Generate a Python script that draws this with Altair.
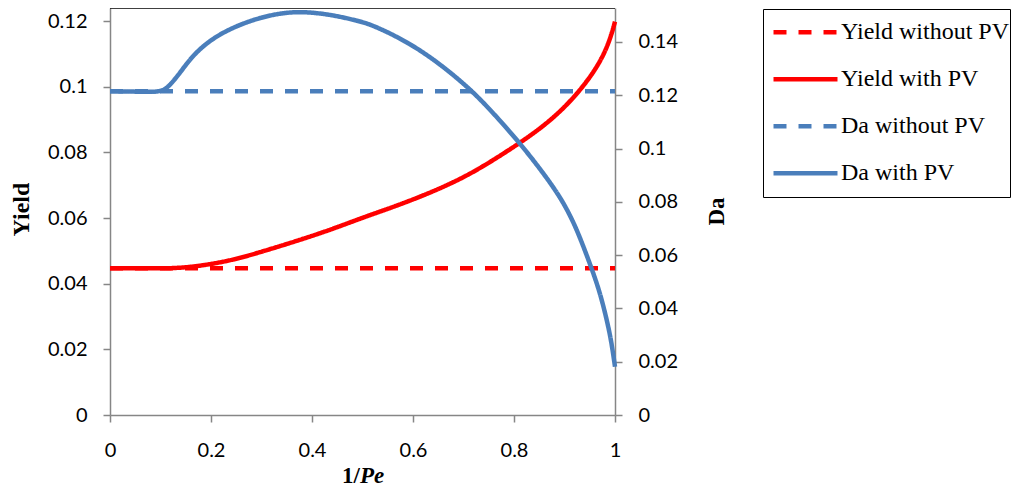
import altair as alt
import pandas as pd

# ---- data ----
series_names = ["Yield without PV", "Yield with PV", "Da without PV", "Da with PV"]
series_colors = ["#FF0000", "#FF0000", "#4A7EBB", "#4A7EBB"]
series_dashes = [[13, 12], [1, 0], [13, 12], [1, 0]]

x_flat = [0.0, 1.0]
yield_without_pv = [0.0447, 0.0447]
da_without_pv = [0.1215, 0.1215]

x_yield_pv = [0.0, 0.05, 0.1, 0.13, 0.18, 0.244, 0.3, 0.376, 0.44, 0.5, 0.56, 0.62,
              0.68, 0.733, 0.812, 0.878, 0.931, 0.97, 0.99, 1.0]
yield_with_pv = [0.0447, 0.0447, 0.0447, 0.0447, 0.0454, 0.0472, 0.0497, 0.0533,
                 0.0566, 0.0601, 0.0633, 0.0668, 0.0708, 0.0751, 0.0828, 0.0902,
                 0.0987, 0.1071, 0.1142, 0.1198]

x_da_pv = [0.0, 0.05, 0.08, 0.105, 0.12, 0.14, 0.165, 0.2, 0.245, 0.3, 0.35, 0.39,
           0.44, 0.49, 0.52, 0.59, 0.653, 0.72, 0.772, 0.812, 0.851, 0.891, 0.917,
           0.935, 0.954, 0.97, 0.984, 0.993, 1.0]
da_with_pv = [0.1215, 0.1214, 0.1212, 0.1215, 0.1240, 0.1288, 0.1352, 0.1410, 0.1457,
              0.1494, 0.1512, 0.1513, 0.1502, 0.1480, 0.1464, 0.1400, 0.1319, 0.1213,
              0.1106, 0.1019, 0.0926, 0.0821, 0.0728, 0.0645, 0.0549, 0.0461, 0.0356,
              0.0274, 0.0181]

x_ticks = [0, 0.2, 0.4, 0.6, 0.8, 1.0]
yield_ticks = [0, 0.02, 0.04, 0.06, 0.08, 0.1, 0.12]
da_ticks = [0, 0.02, 0.04, 0.06, 0.08, 0.1, 0.12, 0.14]

# ---- tables ----
df_yield = pd.concat([
    pd.DataFrame({"x": x_flat, "value": yield_without_pv, "series": series_names[0]}),
    pd.DataFrame({"x": x_yield_pv, "value": yield_with_pv, "series": series_names[1]}),
])
df_da = pd.concat([
    pd.DataFrame({"x": x_flat, "value": da_without_pv, "series": series_names[2]}),
    pd.DataFrame({"x": x_da_pv, "value": da_with_pv, "series": series_names[3]}),
])

W, H = 505, 407
GRAY = "#868686"

leg = alt.Legend(
    title=None, orient="none", legendX=653, legendY=1,
    symbolType="stroke", symbolSize=4096, symbolStrokeWidth=4.5,
    labelFont="Liberation Serif", labelFontSize=24, labelColor="black",
    labelOffset=1, symbolOffset=8, padding=0, clipHeight=46.5, rowPadding=0,
    strokeColor="black", labelLimit=400,
)

color = alt.Color("series:N", scale=alt.Scale(domain=series_names, range=series_colors), legend=leg)
dash = alt.StrokeDash("series:N", scale=alt.Scale(domain=series_names, range=series_dashes), legend=leg)

x_enc = alt.X(
    "x:Q", scale=alt.Scale(domain=[0, 1], nice=False),
    axis=alt.Axis(values=x_ticks, format="~g", title=None, labelPadding=18, labelFlush=False),
)

yield_layer = alt.Chart(df_yield).mark_line(strokeWidth=4.5, interpolate="basis", strokeCap="butt").encode(
    x=x_enc,
    y=alt.Y("value:Q", scale=alt.Scale(domain=[0, 0.12396], nice=False),
            axis=alt.Axis(values=yield_ticks, format="~g", title="Yield", orient="left",
                          titleFont="Liberation Serif", titleFontSize=24, titleFontWeight="bold",
                          titleColor="black", titleAngle=270, titleX=-82, titleY=201,
                          titleBaseline="alphabetic", titleAlign="center", labelPadding=16,
                          labelFlush=False)),
    color=color, strokeDash=dash, order=alt.Order("x:Q"),
)

da_layer = alt.Chart(df_da).mark_line(strokeWidth=4.5, interpolate="basis", strokeCap="butt").encode(
    x=x_enc,
    y=alt.Y("value:Q", scale=alt.Scale(domain=[0, 0.15276], nice=False),
            axis=alt.Axis(values=da_ticks, format="~g", title="Da", orient="right",
                          titleFont="Liberation Serif", titleFontSize=23, titleFontWeight="bold",
                          titleColor="black", titleAngle=270, titleX=108, titleY=203,
                          titleBaseline="alphabetic", titleAlign="center", labelPadding=16,
                          labelFlush=False)),
    color=color, strokeDash=dash, order=alt.Order("x:Q"),
)

top_border = alt.Chart(pd.DataFrame({"a": [0]})).mark_rule(color="black", strokeWidth=1.5).encode(
    x=alt.value(0), x2=alt.value(W), y=alt.value(0)
)

t1 = alt.Chart(pd.DataFrame({"t": ["1/"]})).mark_text(
    font="Liberation Serif", fontSize=23, fontWeight="bold", align="left",
    baseline="alphabetic", color="black"
).encode(text="t:N", x=alt.value(232), y=alt.value(475))

t2 = alt.Chart(pd.DataFrame({"t": ["Pe"]})).mark_text(
    font="Liberation Serif", fontSize=23, fontWeight="bold", fontStyle="italic",
    align="left", baseline="alphabetic", color="black"
).encode(text="t:N", x=alt.value(250), y=alt.value(475))

chart = alt.layer(yield_layer, da_layer, top_border, t1, t2).resolve_scale(
    y="independent"
).properties(
    width=W, height=H,
    autosize=alt.AutoSizeParams(type="none"),
    padding={"left": 102, "top": 0, "right": 401, "bottom": 75},
).configure_axis(
    grid=False, domainColor=GRAY, domainWidth=1.5, tickColor=GRAY, tickWidth=1.5,
    tickSize=7, labelFont="Lato", labelFontSize=20, labelColor="black", labelFlush=False,
).configure_view(stroke="transparent")

chart.save("out.html", embed_options={"renderer": "svg", "actions": False})
